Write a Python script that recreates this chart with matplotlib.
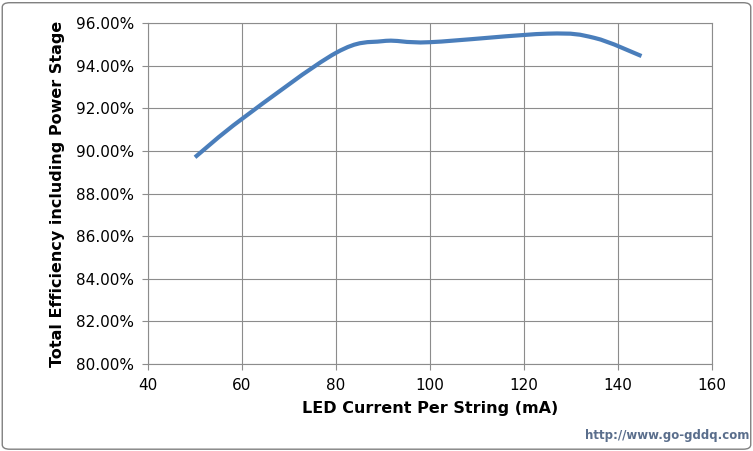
import matplotlib
matplotlib.use('Agg')
import matplotlib.pyplot as plt
import numpy as np
from matplotlib.path import Path
from matplotlib.patches import PathPatch, FancyBboxPatch

current_ma = [50, 60, 80, 90, 100, 125, 135, 145]
efficiency = [89.7, 91.5, 94.6, 95.15, 95.1, 95.5, 95.3, 94.45]
x_ticks = [40, 60, 80, 100, 120, 140, 160]
y_ticks = [80, 82, 84, 86, 88, 90, 92, 94, 96]

fig = plt.figure(figsize=(7.53, 4.51), dpi=100)
fig.patches.append(FancyBboxPatch((0.003, 0.004), 0.994, 0.99, boxstyle='round,pad=0,rounding_size=0.01',
                                  transform=fig.transFigure, fill=False, edgecolor='#808080', lw=1))
ax = fig.add_axes([148 / 753, 1 - 364 / 451, (712 - 148) / 753, (364 - 23) / 451])

# smooth line like the spreadsheet's smoothed scatter (Catmull-Rom -> Bezier)
x = np.array(current_ma, float)
y = np.array(efficiency, float)
verts = [(x[0], y[0])]
codes = [Path.MOVETO]
n = len(x)
for i in range(n - 1):
    p0 = np.array([x[max(i - 1, 0)], y[max(i - 1, 0)]])
    p1 = np.array([x[i], y[i]])
    p2 = np.array([x[i + 1], y[i + 1]])
    p3 = np.array([x[min(i + 2, n - 1)], y[min(i + 2, n - 1)]])
    c1 = p1 + (p2 - p0) / 6
    c2 = p2 - (p3 - p1) / 6
    verts += [tuple(c1), tuple(c2), tuple(p2)]
    codes += [Path.CURVE4] * 3
ax.add_patch(PathPatch(Path(verts, codes), fill=False, edgecolor='#4a7ebb', lw=3, zorder=3))

ax.set_xlim(40, 160)
ax.set_ylim(80, 96)
ax.set_xticks(x_ticks)
ax.set_yticks(y_ticks)
ax.set_yticklabels([f'{v:.2f}%' for v in y_ticks])
ax.grid(True, color='#8c8c8c', lw=0.8)
ax.set_axisbelow(True)
for s in ax.spines.values():
    s.set_color('#8c8c8c')
ax.tick_params(labelsize=11, length=4, color='#8c8c8c', pad=6)
ax.set_xlabel('LED Current Per String (mA)', fontsize=11.5, fontweight='bold', labelpad=6)
ax.set_ylabel('Total Efficiency including Power Stage', fontsize=11.5, fontweight='bold', labelpad=8)

fig.text(0.995, 0.02, 'http://www.go-gddq.com', ha='right', va='bottom',
         fontsize=8.5, color='#5a6e8c', fontweight='bold')

fig.savefig('out.png', dpi=100)
